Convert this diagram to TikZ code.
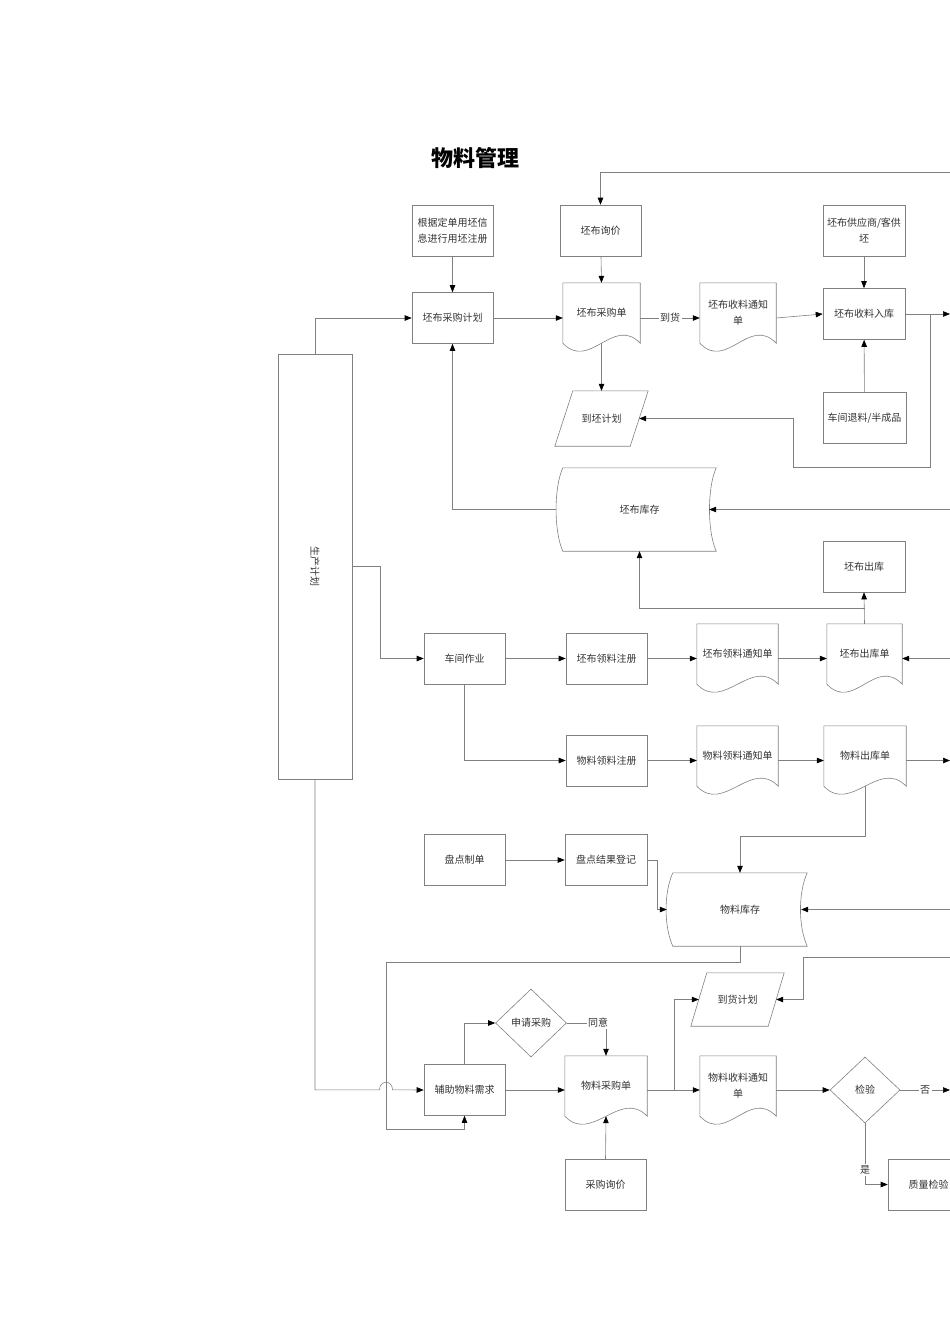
\documentclass[tikz,border=0pt]{standalone}
\usepackage{fontspec}
\setmainfont{Noto Sans CJK SC}
\usepackage{tikz}
\usetikzlibrary{arrows.meta,shapes.geometric,calc}

\newcommand{\docpath}[1]{\draw[wire] (#1.north west) -- (#1.north east) -- (#1.south east) .. controls ($(#1.south east)+(-27,-28)$) and ($(#1.south west)+(27,28)$) .. (#1.south west) -- cycle;}
\newcommand{\storepath}[1]{\draw[wire] (#1.north east) -- (#1.north west) .. controls ($(#1.north west)+(-9,20)$) and ($(#1.south west)+(-9,-20)$) .. (#1.south west) -- (#1.south east) .. controls ($(#1.south east)+(-9,-20)$) and ($(#1.north east)+(-9,20)$) .. cycle;}
\newcommand{\slantpath}[2]{\draw[wire] (#1.south west) -- ($(#1.north west)+(#2,0)$) -- (#1.north east) -- ($(#1.south east)+(-#2,0)$) -- cycle;}

\begin{document}
\begin{tikzpicture}[x=1pt,y=-1pt,
		wire/.style={draw=black!50,line width=0.6pt},
		flow/.style={wire,-{Triangle[length=7pt,width=5.5pt,color=black]}},
		txt/.style={font=\fontsize{10}{16}\selectfont,text=black!80,align=center,inner sep=1pt},
		box/.style={txt,wire,rectangle,minimum width=81pt,minimum height=51pt},
		doc/.style={txt,rectangle,minimum width=77pt,minimum height=60pt},
		store/.style={txt,rectangle,minimum width=153pt,minimum height=83pt},
		slant/.style={txt,rectangle,minimum width=93pt,minimum height=55pt},
		choice/.style={txt,wire,diamond,minimum width=70pt,minimum height=68pt,inner sep=0pt},
		lbl/.style={txt,fill=white,inner sep=1.5pt}]
	\useasboundingbox (0,0) rectangle (950,1344);
	\clip (0,0) rectangle (950,1344);

	\node (title) at (475,158) {\fontsize{22}{26}\selectfont\bfseries 物料管理};

	% 坯布
	\node[box] (reg) at (452.5,230.5) {根据定单用坯信\\息进行用坯注册};
	\node[box] (xunjia) at (600.5,230.5) {坯布询价};
	\node[box,minimum width=82pt] (gys) at (864,230.5) {坯布供应商/客供\\坯};
	\node[box] (jihua) at (452.5,318) {坯布采购计划};
	\node[doc] (cgd) at (601.5,313) {坯布采购单}; \docpath{cgd}
	\node[doc,minimum width=76pt] (tzd) at (738,313) {坯布收料通知\\单}; \docpath{tzd}
	\node[box,minimum width=82pt] (rk) at (864,314) {坯布收料入库};
	\node[box,minimum width=83pt] (tl) at (864.5,418) {车间退料/半成品};
	\node[slant] (dpjh) at (601.5,418.5) {到坯计划}; \slantpath{dpjh}{18}
	\node[store] (pbkc) at (639.5,509.5) {坯布库存}; \storepath{pbkc}
	\node[box,minimum width=82pt] (pbck) at (864,566.5) {坯布出库};
	\node[doc,minimum width=75pt] (pbckd) at (864.5,654) {坯布出库单}; \docpath{pbckd}

	\node[box,minimum width=74pt,minimum height=425pt] (sc) at (315,566.5) {};
	\node[txt,rotate=-90] (sctext) at (sc) {生产计划};

	% 车间
	\node[box] (cjzy) at (464.5,658.5) {车间作业};
	\node[box] (pbly) at (606.5,658.5) {坯布领料注册};
	\node[doc,minimum width=81pt] (pblt) at (737.5,654) {坯布领料通知单}; \docpath{pblt}
	\node[box] (wlly) at (606.5,760.5) {物料领料注册};
	\node[doc,minimum width=81pt] (wltz) at (737.5,756) {物料领料通知单}; \docpath{wltz}
	\node[doc,minimum width=82pt] (wlck) at (865,756) {物料出库单}; \docpath{wlck}

	% 盘点
	\node[box] (pdzd) at (464.5,860) {盘点制单};
	\node[box,minimum width=82pt] (pdjg) at (606,860) {盘点结果登记};
	\node[store,minimum width=134pt,minimum height=73pt] (wlkc) at (740,909.5) {物料库存}; \storepath{wlkc}

	% 辅助物料
	\node[box] (fz) at (464.5,1090) {辅助物料需求};
	\node[choice,minimum width=71pt] (sq) at (531,1023) {申请采购};
	\node[doc,minimum width=82pt] (cg) at (606,1086) {物料采购单}; \docpath{cg}
	\node[box] (xj) at (605.5,1185) {采购询价};
	\node[slant,minimum height=53pt] (dhjh) at (737.5,999.5) {到货计划}; \slantpath{dhjh}{16}
	\node[doc,minimum width=76pt] (wltz2) at (738,1086) {物料收料通知\\单}; \docpath{wltz2}
	\node[choice,minimum height=66pt] (jy) at (865,1090) {检验};
	\node[box] (zl) at (928.5,1184.5) {质量检验};

	\coordinate (eTop) at (950,172);
	\coordinate (eRk) at (950,314);
	\coordinate (rkTurn) at (930,314);
	\coordinate (ePbkc) at (950,509.5);
	\coordinate (ckTurn) at (864.5,608);
	\coordinate (ePbckd) at (950,658.5);
	\coordinate (eWlck) at (950,760.5);
	\coordinate (eWlkc) at (950,909.5);
	\coordinate (loop) at (386,1129);
	\coordinate (cgTurn) at (674,1090);
	\coordinate (eDh) at (950,957);
	\coordinate (eJy) at (950,1090);

	\draw[flow] (eTop) -| (xunjia.north);
	\draw[flow] (reg) -- (jihua);
	\draw[flow] (xunjia) -- (cgd.north);
	\draw[flow] (jihua.east) -- (jihua.east -| cgd.west);
	\draw[flow] (cgd.east |- jihua) -- node[lbl] {到货} (tzd.west |- jihua);
	\draw[flow] (tzd.east |- jihua) -- (rk.west);
	\draw[flow] (gys) -- (rk);
	\draw[flow] (tl) -- (rk);
	\draw[flow] (rk.east) -- (eRk);
	\draw[flow] (rkTurn) |- ++(-137,153) |- ($(dpjh.east)+(-9,0)$);
	\draw[flow] (cgd.south) -- (dpjh.north);
	\draw[flow] (sc.north) |- (jihua.west);
	\draw[flow] ($(pbkc.west)+(-7,0)$) -| (jihua.south);
	\draw[flow] (ePbkc) -- ($(pbkc.east)+(-7,0)$);
	\draw[flow] (pbckd.north) -- (pbck.south);
	\draw[flow] (ckTurn) -| (pbkc.south);
	\draw[flow] (ePbckd) -- (pbckd.east |- ePbckd);

	\draw[flow] (sc.east) -- ++(28,0) |- (cjzy.west);
	\draw[flow] (cjzy) -- (pbly);
	\draw[flow] (pbly.east) -- (pbly.east -| pblt.west);
	\draw[flow] (pblt.east |- pbly) -- (pbckd.west |- pbly);
	\draw[flow] (cjzy.south) |- (wlly.west);
	\draw[flow] (wlly.east) -- (wlly.east -| wltz.west);
	\draw[flow] (wltz.east |- wlly) -- (wlck.west |- wlly);
	\draw[flow] (wlck.east |- wlly) -- (eWlck);
	\draw[flow] (wlck.south) -- ++(0,50) -| (wlkc.north);

	\draw[flow] (pdzd) -- (pdjg);
	\draw[flow] (pdjg.east) -- ++(10,0) |- ($(wlkc.west)+(-6,0)$);
	\draw[flow] (eWlkc) -- ($(wlkc.east)+(-6,0)$);
	\draw[flow] (wlkc.south) -- ++(0,16) -| (loop) -| (fz.south);

	\draw[flow] (sc.south) -- ++(0,310.5) -- ++(64.5,0) .. controls +(0,-10) and +(0,-10) .. ++(13,0) -- (fz.west);
	\draw[flow] (fz.north) |- (sq.west);
	\draw[flow] (sq.east) -| node[lbl,pos=0.4] {同意} (cg.north);
	\draw[flow] (xj.north) -- (cg.south);
	\draw[flow] (fz.east) -- (fz.east -| cg.west);
	\draw[flow] (cg.east |- fz) -- (wltz2.west |- fz);
	\draw[flow] (cgTurn) |- ($(dhjh.west)+(8,0)$);
	\draw[flow] (eDh) -- ++(-147,0) |- ($(dhjh.east)+(-8,0)$);
	\draw[flow] (wltz2.east |- fz) -- (jy.west);
	\draw[flow] (jy.east) -- node[lbl] {否} (eJy);
	\draw[flow] (jy.south) |- node[lbl,pos=0.38] {是} (zl.west);
\end{tikzpicture}
\end{document}
